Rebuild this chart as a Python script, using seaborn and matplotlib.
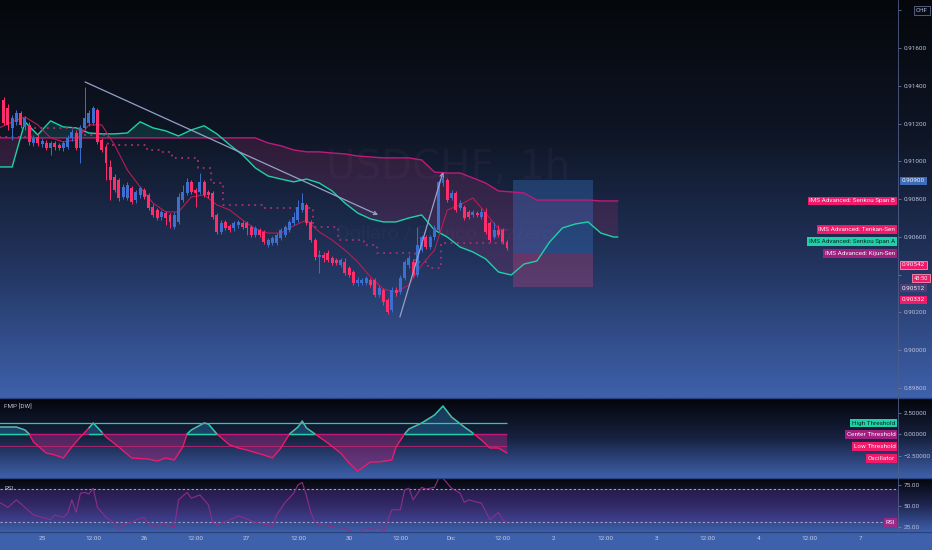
import numpy as np
import matplotlib
matplotlib.use("Agg")
import matplotlib.pyplot as plt
import seaborn as sns
from matplotlib.colors import LinearSegmentedColormap
from matplotlib.lines import Line2D
from matplotlib.transforms import blended_transform_factory
from matplotlib import font_manager

# ---------------- data (x = trading hours counted from 25 Nov 00:00) ----------------
bar_hours = np.arange(-9, 110)
opens = [.91325, .91283, .91177, .91209, .91256, .91182, .91193, .91097, .91129,
         .91092, .91097, .91071, .91097, .91087, .91071, .91076, .91124, .91150, .91071,
         .91177, .91204, .91204, .91272, .91113, .91076, .90970, .90917, .90901, .90811,
         .90806, .90859, .90795, .90822, .90848, .90822, .90758, .90742, .90705, .90726,
         .90716, .90652, .90679, .90795, .90832, .90891, .90848, .90838, .90891, .90838,
         .90832, .90716, .90626, .90679, .90658, .90647, .90663, .90673, .90673, .90652,
         .90610, .90636, .90626, .90557, .90568, .90568, .90594, .90610, .90636, .90673,
         .90689, .90742, .90769, .90679, .90583, .90493, .90504, .90515, .90488, .90477,
         .90451, .90467, .90435, .90414, .90356, .90356, .90356, .90372, .90372, .90292,
         .90319, .90266, .90213, .90319, .90308, .90382, .90451, .90467, .90398, .90530,
         .90599, .90546, .90599, .90636, .90885, .90901, .90806, .90832, .90753, .90758,
         .90732, .90716, .90726, .90705, .90732, .90673, .90599, .90636, .90636, .90573]
closes = [.91204, .91193, .91230, .91256, .91193, .91230, .91103, .91124, .91097,
          .91108, .91071, .91097, .91076, .91071, .91097, .91124, .91156, .91071, .91177,
          .91230, .91256, .91283, .91103, .91060, .90991, .90901, .90848, .90806, .90864,
          .90875, .90785, .90838, .90859, .90811, .90753, .90716, .90700, .90732, .90700,
          .90679, .90716, .90811, .90838, .90891, .90838, .90832, .90891, .90822, .90822,
          .90705, .90626, .90673, .90647, .90636, .90673, .90679, .90652, .90647, .90610,
          .90647, .90610, .90573, .90583, .90594, .90610, .90636, .90652, .90679, .90705,
          .90758, .90779, .90673, .90583, .90493, .90504, .90488, .90477, .90461, .90461,
          .90477, .90409, .90398, .90356, .90372, .90372, .90382, .90345, .90292, .90329,
          .90255, .90202, .90319, .90303, .90382, .90467, .90488, .90398, .90557, .90599,
          .90546, .90599, .90647, .90891, .90912, .90795, .90832, .90742, .90779, .90700,
          .90705, .90732, .90716, .90732, .90626, .90583, .90636, .90610, .90573, .90541]
highs = [.91341, .91304, .91246, .91272, .91267, .91240, .91209, .91140, .91145,
         .91124, .91113, .91108, .91108, .91097, .91108, .91140, .91172, .91166, .91193,
         .91394, .91272, .91293, .91283, .91124, .91092, .91007, .90933, .90912, .90880,
         .90891, .90869, .90848, .90869, .90859, .90832, .90774, .90753, .90742, .90737,
         .90726, .90732, .90832, .90875, .90912, .90901, .90859, .90938, .90901, .90848,
         .90843, .90726, .90689, .90689, .90668, .90684, .90689, .90684, .90684, .90663,
         .90658, .90647, .90636, .90594, .90605, .90620, .90647, .90663, .90689, .90732,
         .90795, .90832, .90779, .90689, .90594, .90530, .90520, .90530, .90499, .90488,
         .90488, .90488, .90446, .90424, .90388, .90382, .90393, .90382, .90382, .90345,
         .90329, .90277, .90335, .90335, .90398, .90477, .90504, .90483, .90652, .90610,
         .90610, .90610, .90663, .90901, .90944, .90912, .90848, .90843, .90795, .90769,
         .90742, .90742, .90737, .90753, .90753, .90684, .90679, .90663, .90647, .90583]
lows = [.91193, .91166, .91113, .91193, .91177, .91166, .91087, .91082, .91082,
        .91076, .91060, .91034, .91060, .91060, .91055, .91066, .91108, .91060, .90991,
        .91166, .91188, .91193, .91092, .91050, .90901, .90795, .90838, .90790, .90801,
        .90795, .90774, .90779, .90806, .90801, .90742, .90705, .90689, .90689, .90663,
        .90647, .90642, .90668, .90785, .90822, .90827, .90758, .90827, .90811, .90806,
        .90695, .90615, .90615, .90636, .90626, .90631, .90647, .90642, .90610, .90599,
        .90599, .90599, .90562, .90546, .90557, .90557, .90583, .90599, .90626, .90663,
        .90679, .90732, .90663, .90573, .90477, .90409, .90467, .90467, .90451, .90451,
        .90440, .90398, .90388, .90345, .90340, .90345, .90345, .90335, .90282, .90282,
        .90239, .90192, .90202, .90287, .90297, .90372, .90435, .90388, .90388, .90520,
        .90536, .90536, .90583, .90626, .90869, .90785, .90795, .90732, .90742, .90689,
        .90695, .90705, .90705, .90695, .90615, .90573, .90589, .90599, .90562, .90530]

# Ichimoku cloud (shifted 26 bars forward)
span_hours = list(range(-10, 135, 3)) + [135]
span_a = [.90970, .90970, .91209, .91140, .91214, .91182, .91177, .91150, .91145, .91145,
          .91150, .91209, .91177, .91161, .91134, .91166, .91188, .91145, .91087, .91034,
          .90965, .90922, .90906, .90891, .90906, .90885, .90843, .90779, .90726, .90695,
          .90679, .90679, .90700, .90716, .90636, .90599, .90546, .90520, .90483, .90414,
          .90398, .90456, .90472, .90573, .90647, .90668, .90679, .90620, .90599, .90599]
span_b = [.91124] * 21 + [.91097, .91082, .91060, .91050, .91050, .91044, .91039, .91028,
                          .91023, .91018, .91018, .91018, .91007, .90943, .90938, .90938,
                          .90912, .90885, .90843, .90838, .90832, .90795, .90795, .90795,
                          .90795, .90795, .90790, .90790, .90790]

line_hours = list(range(-10, 108, 3)) + [109]
tenkan = [.91177, .91209, .91235, .91193, .91124, .91103, .91113, .91193, .91193, .91087,
          .90954, .90864, .90779, .90732, .90732, .90811, .90822, .90769, .90742, .90689,
          .90642, .90620, .90620, .90658, .90689, .90626, .90583, .90530, .90467, .90388,
          .90324, .90308, .90345, .90451, .90530, .90742, .90769, .90806, .90726, .90642,
          .90636]
kijun = [.91129, .91129, .91129, .91177, .91177, .91177, .91177, .91140, .91140, .91087,
         .91087, .91087, .91060, .91050, .91018, .91018, .90965, .90885, .90769, .90769,
         .90769, .90753, .90753, .90753, .90753, .90652, .90652, .90583, .90583, .90557,
         .90515, .90515, .90515, .90467, .90435, .90568, .90568, .90568, .90568, .90568,
         .90568]

# drawings
trend_down = [(10.1, .91420), (78.8, .90716)]
trend_up = [(83.9, .90176), (94.0, .90943)]
pos_hours = [110.3, 129.2]
pos_target, pos_entry, pos_stop = .90900, .90512, .90332

# FMP [DW] oscillator
osc_hours = [-10, -6, -4, -3, -2, 1, 3, 5, 7, 9, 11, 12, 14, 15, 18, 21, 25, 27, 29, 31,
             33, 34, 35, 38, 39, 41, 44, 46, 48, 52, 54, 56, 58, 60, 61, 62, 64, 67, 70, 72,
             74, 75, 77, 79, 82, 83, 85, 86, 89, 92, 94, 96, 99, 101, 103, 105, 107, 109]
osc_values = [0.84, 0.84, 0.50, 0.03, -0.89, -2.16, -2.38, -2.73, -1.46, -0.31,
              0.73, 1.30, 0.26, -0.31, -1.46, -2.73, -2.85, -3.08, -2.73, -2.96,
              -1.46, 0.03, 0.50, 1.30, 1.19, 0.03, -1.23, -1.58, -1.81, -2.38,
              -2.73, -1.58, 0.03, 0.84, 1.53, 0.73, 0.03, -1.00, -2.16, -3.31,
              -4.24, -3.89, -3.19, -3.19, -2.96, -1.46, 0.03, 0.61, 1.30, 2.22,
              3.26, 1.99, 0.84, 0.15, -0.66, -1.58, -1.58, -2.16]
high_thr, center_thr, low_thr = 1.3, 0.0, -1.3

# RSI
rsi_hours = [-10, -8, -6, -4, -2, 0, 2, 3, 5, 6, 7, 8, 9, 10, 11, 12, 13, 15, 17, 18,
             19, 21, 22, 24, 25, 27, 28, 31, 32, 34, 35, 37, 39, 40, 41, 45, 46, 50, 53, 54,
             55, 57, 59, 60, 61, 62, 63, 64, 65, 69, 71, 73, 74, 76, 78, 79, 80, 82, 84, 85,
             86, 87, 89, 90, 92, 93, 94, 96, 98, 99, 100, 103, 105, 107, 108, 109]
rsi_values = [54, 48, 57, 48, 39, 36, 33, 39, 36, 41, 57, 42, 65, 66, 64, 71, 48, 36, 29, 21,
              27, 30, 33, 36, 27, 23, 29, 24, 57, 66, 59, 63, 51, 30, 27, 35, 38, 30, 27, 24,
              39, 54, 65, 75, 78, 62, 42, 30, 27, 24, 23, 18, 17, 24, 21, 27, 18, 45, 45, 69,
              71, 57, 72, 70, 72, 83, 83, 71, 65, 54, 57, 53, 33, 42, 33, 30]

tick_hours = list(range(0, 193, 12))
tick_labels = ['25', '12:00', '26', '12:00', '27', '12:00', '30', '12:00', 'Dic',
               '12:00', '2', '12:00', '3', '12:00', '4', '12:00', '7']
price_ticks = [0.898, 0.900, 0.902, 0.904, 0.906, 0.908, 0.910, 0.912, 0.914, 0.916, 0.918]
hidden_ticks = [0.904, 0.918]  # covered by the badges in the chart

# ---------------- style ----------------
sns.set_theme(style='dark')
plt.rcParams['font.family'] = ['Roboto', 'DejaVu Sans']
TXT = '#b9c0d9'
FS = 4.6
TEAL = '#1fd1a8'
PINK = '#f0196a'
MAG = '#c2187a'
PURP = '#a0207f'
BLUE_C = '#3c6fd0'
RED_C = '#ff2d6a'

W, H = 932, 550
PR = 898  # right edge of the plotting area (px)

fig = plt.figure(figsize=(9.32, 5.5), dpi=100, facecolor='#3e61ac')


def rect(top, bottom, left=0, right=PR):
    return [left / W, 1 - bottom / H, (right - left) / W, (bottom - top) / H]


def gradient(top, bottom, colors):
    bg = fig.add_axes(rect(top, bottom, 0, W), zorder=-5)
    cmap = LinearSegmentedColormap.from_list('bg', colors)
    bg.imshow(np.linspace(0, 1, 256).reshape(-1, 1), aspect='auto', cmap=cmap,
              extent=[0, 1, 0, 1], origin='upper')
    bg.axis('off')


gradient(0, 397, ['#05070b', '#0e1524', '#22345e', '#3e61ac'])
gradient(399, 477, ['#04050a', '#17213f', '#3d5fa9'])
gradient(479, 531, ['#05060b', '#1f2650', '#3d5ea9'])

ax = fig.add_axes(rect(0, 397))
ax_osc = fig.add_axes(rect(399, 477))
ax_rsi = fig.add_axes(rect(479, 531))
for a in (ax, ax_osc, ax_rsi):
    a.set_facecolor('none')
    a.grid(False)
    for s in a.spines.values():
        s.set_visible(False)
    a.set_xlim(-9.85, 200.66)
    a.yaxis.tick_right()
    a.tick_params(axis='y', colors='#7d89ad', labelcolor=TXT, labelsize=FS,
                  length=2, width=0.5, pad=2)
    a.tick_params(axis='x', length=0)

# ---------------- main price panel ----------------
ax.set_ylim(0.89752, 0.91854)
ax.set_yticks(price_ticks)
ax.set_yticklabels(['' if v in hidden_ticks else f'{v:.5f}' for v in price_ticks])
ax.set_xticks([])

names = {f.name for f in font_manager.fontManager.ttflist}
narrow = 'Liberation Sans Narrow' in names
wm_font = 'Liberation Sans Narrow' if narrow else 'DejaVu Sans'
ax.text(0.499, 0.577, 'USDCHF, 1h', transform=ax.transAxes, ha='center', va='center',
        fontsize=36 if narrow else 29, family=wm_font, color='#c07ac0', alpha=0.055, zorder=0)
ax.text(0.496, 0.413, 'Dollaro / Franco svizzero', transform=ax.transAxes, ha='center',
        va='center', fontsize=14, color='#c07ac0', alpha=0.055, zorder=0)

a_arr, b_arr = np.array(span_a), np.array(span_b)
ax.fill_between(span_hours, a_arr, b_arr, where=a_arr >= b_arr, interpolate=True,
                color='#1d6d6a', alpha=0.3, lw=0, zorder=1)
ax.fill_between(span_hours, a_arr, b_arr, where=a_arr < b_arr, interpolate=True,
                color='#a0306e', alpha=0.22, lw=0, zorder=1)
sns.lineplot(x=span_hours, y=span_b, ax=ax, color=MAG, lw=1.0, estimator=None, zorder=2)
sns.lineplot(x=span_hours, y=span_a, ax=ax, color=TEAL, lw=1.0, estimator=None, zorder=2)
sns.lineplot(x=line_hours, y=tenkan, ax=ax, color='#b81c55', lw=0.8, estimator=None, zorder=2)
ax.plot(line_hours, kijun, color='#a8306e', lw=1.3, ls=(0, (1, 2.5)),
        drawstyle='steps-mid', zorder=2)

# position tool
ax.fill_between(pos_hours, pos_entry, pos_target, color='#3a7bd0', alpha=0.33, lw=0, zorder=1.5)
ax.fill_between(pos_hours, pos_stop, pos_entry, color='#a8407a', alpha=0.4, lw=0, zorder=1.5)

# candles
o, c = np.array(opens), np.array(closes)
up = c >= o
cols = np.where(up, BLUE_C, RED_C)
ax.vlines(bar_hours, lows, highs, colors=cols, lw=0.7, zorder=3)
ax.bar(bar_hours, np.maximum(np.abs(c - o), 0.00003), bottom=np.minimum(o, c), width=0.7,
       color=cols, lw=0, zorder=3.5)

# drawings
for seg in (trend_down, trend_up):
    ax.annotate('', xy=seg[1], xytext=seg[0], zorder=4,
                arrowprops=dict(arrowstyle='->', color='#93a2c8', lw=0.9,
                                shrinkA=0, shrinkB=0, mutation_scale=6))


def badge(a, x, y, s, fc, tc='#eef0f6', ha='right', ec='none', fs=FS):
    t = blended_transform_factory(a.transAxes, a.transData)
    a.text(x, y, s, transform=t, ha=ha, va='center', fontsize=fs, color=tc, clip_on=False,
           zorder=10, bbox=dict(boxstyle='square,pad=0.3', fc=fc, ec=ec, lw=0.6))


# ichimoku value labels (stacked as in the chart)
badge(ax, 0.997, 0.90790, 'IMS Advanced: Senkou Span B', PINK)
badge(ax, 0.997, 0.90639, 'IMS Advanced: Tenkan-Sen', PINK)
badge(ax, 0.997, 0.90576, 'IMS Advanced: Senkou Span A', TEAL, tc='#0c2a26')
badge(ax, 0.997, 0.90512, 'IMS Advanced: Kijun-Sen', PURP)
# price scale labels
badge(ax, 1.0045, 0.90896, '0.90900', '#3d6bb5', ha='left')
badge(ax, 1.0045, 0.90451, '0.90542', PINK, ha='left', ec='#ff8fb4')
badge(ax, 1.0335, 0.90382, '43:50', PINK, ha='right', ec='#ff8fb4', fs=4.2)
badge(ax, 1.0045, 0.90329, '0.90512', '#4b3f78', ha='left')
badge(ax, 1.0045, 0.90266, '0.90332', PINK, ha='left')
badge(ax, 1.0335, 0.91800, 'CHF', '#080b14', tc=TXT, ha='right', ec='#5d6a90')

# ---------------- oscillator panel ----------------
ax_osc.set_ylim(-4.92, 4.07)
ax_osc.set_yticks([2.5, 0, -2.5])
ax_osc.set_yticklabels(['2.50000', '0.00000', '\u22122.50000'])
ax_osc.set_xticks([])
ov = np.array(osc_values)
ax_osc.fill_between(osc_hours, ov, 0, where=ov >= 0, interpolate=True, color='#25679a',
                    alpha=0.5, lw=0)
ax_osc.fill_between(osc_hours, ov, 0, where=ov <= 0, interpolate=True, color='#8a2776',
                    alpha=0.55, lw=0)
ax_osc.hlines(high_thr, osc_hours[0], osc_hours[-1], color=TEAL, lw=0.9)
ax_osc.hlines(low_thr, osc_hours[0], osc_hours[-1], color='#c0246f', lw=0.7, alpha=0.85)
ax_osc.hlines(center_thr, osc_hours[0], osc_hours[-1], color=MAG, lw=1.0)
ax_osc.plot(osc_hours, np.where(ov >= 0, center_thr, np.nan), color=TEAL, lw=1.0)
sns.lineplot(x=osc_hours, y=osc_values, ax=ax_osc, color=PINK, lw=1.0, estimator=None)
ax_osc.plot(osc_hours, np.where(ov >= 0, ov, np.nan), color=TEAL, lw=1.0)
ax_osc.text(0.005, 0.897, 'FMP [DW]', transform=ax_osc.transAxes, fontsize=FS, color=TXT,
            va='center')
badge(ax_osc, 0.997, 1.30, 'High Threshold', TEAL, tc='#0c2a26')
badge(ax_osc, 0.997, 0.0, 'Center Threshold', PURP)
badge(ax_osc, 0.997, -1.43, 'Low Threshold', PINK)
badge(ax_osc, 0.997, -2.76, 'Oscillator', PINK)

# ---------------- RSI panel ----------------
ax_rsi.set_ylim(19.6, 82.1)
ax_rsi.set_yticks([75, 50, 25])
ax_rsi.set_yticklabels(['75.00', '50.00', '25.00'])
ax_rsi.axhspan(30, 70, color='#5a2f9a', alpha=0.32, lw=0)
for lvl in (70, 30):
    ax_rsi.axhline(lvl, color='#a99ccf', lw=0.8, ls=(0, (2, 2)))
sns.lineplot(x=rsi_hours, y=rsi_values, ax=ax_rsi, color='#8c2f86', lw=0.8, estimator=None)
ax_rsi.text(0.005, 0.81, 'RSI', transform=ax_rsi.transAxes, fontsize=FS, color=TXT,
            va='center')
badge(ax_rsi, 0.997, 30, 'RSI', '#9c2a8a')
ax_rsi.set_xticks(tick_hours)
ax_rsi.set_xticklabels(tick_labels)
ax_rsi.tick_params(axis='x', labelsize=FS, labelcolor='#c5cbe0', pad=3.5)

for a in (ax, ax_osc, ax_rsi):
    a.set_xlabel('')
    a.set_ylabel('')
    a.set_xlim(-9.85, 200.66)

# separators
for yy in (398, 478, 531.5):
    fig.add_artist(Line2D([0, 1], [1 - yy / H] * 2, color='#2b427c', lw=1.0))
fig.add_artist(Line2D([PR / W] * 2, [1 - 531.5 / H, 1], color='#4e5d86', lw=0.6))

fig.savefig('out.png', dpi=100, facecolor=fig.get_facecolor())
